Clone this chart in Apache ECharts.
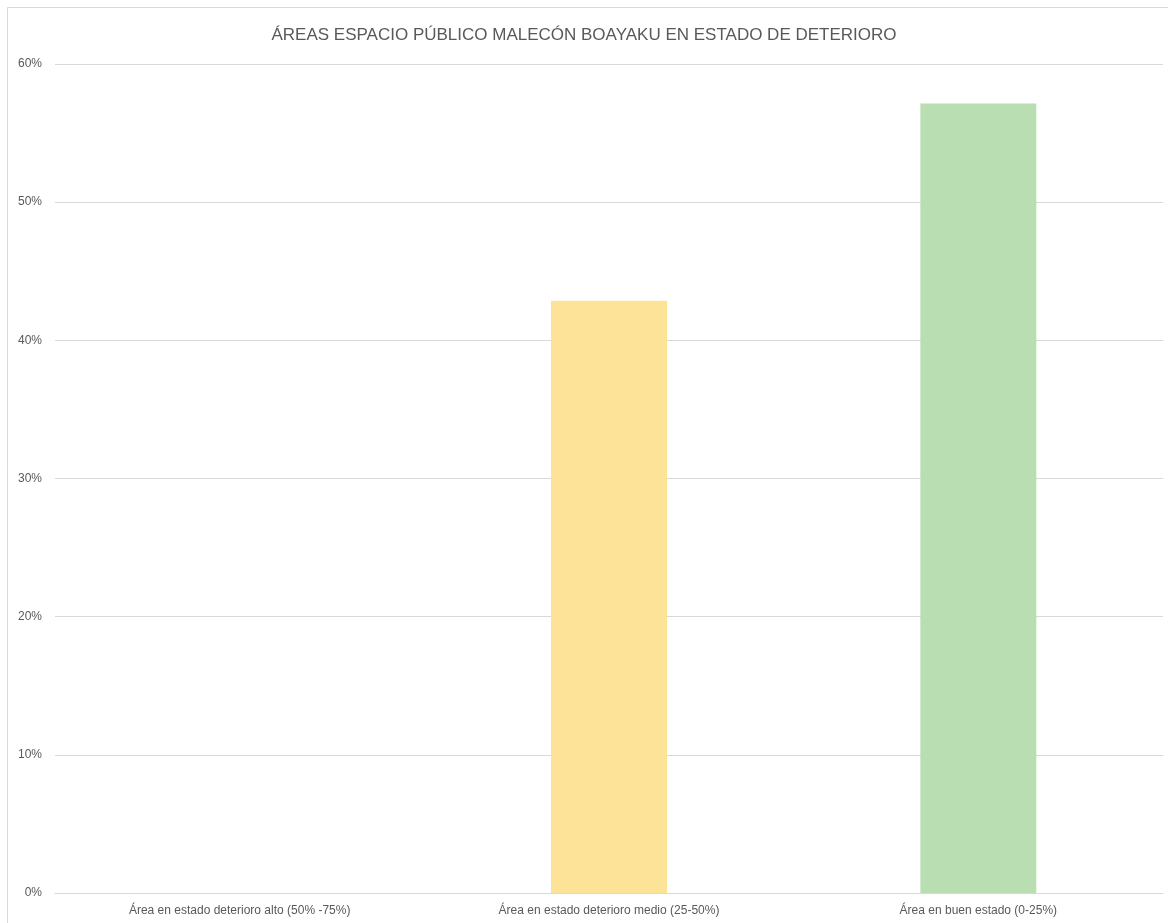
<!DOCTYPE html>
<html>
<head>
<meta charset="utf-8">
<script src="https://cdn.jsdelivr.net/npm/echarts@6/dist/echarts.min.js"></script>
<style>html,body{margin:0;padding:0;background:#fff}#c{width:1168px;height:923px}</style>
</head>
<body>
<div id="c"></div>
<script>
const titleText = 'ÁREAS ESPACIO PÚBLICO MALECÓN BOAYAKU EN ESTADO DE DETERIORO';
const categories = ['Área en estado deterioro alto (50% -75%)', 'Área en estado deterioro medio (25-50%)', 'Área en buen estado (0-25%)'];
const values = [0, 0.4286, 0.5714];
const barColors = ['#f4b183', '#fde397', '#b9deb2'];
const yTicks = [0, 0.1, 0.2, 0.3, 0.4, 0.5, 0.6];

const chart = echarts.init(document.getElementById('c'), null, {renderer: 'canvas'});
const font = '"Liberation Sans", "Open Sans", sans-serif';
chart.setOption({
  animation: false,
  backgroundColor: '#fff',
  graphic: [{
    type: 'rect', z: -1,
    shape: {x: 7.5, y: 7.5, width: 1200, height: 1000},
    style: {fill: 'none', stroke: '#d9d9d9', lineWidth: 1}
  }],
  title: {
    text: titleText, left: 'center', top: 22,
    textStyle: {fontFamily: font, fontSize: 17, fontWeight: 'normal', color: '#595959'}
  },
  grid: {left: 55, right: 5, top: 64, bottom: 30, containLabel: false},
  xAxis: {
    type: 'category', data: categories,
    axisLine: {lineStyle: {color: '#d9d9d9', width: 1}},
    axisTick: {show: false},
    axisLabel: {fontFamily: font, fontSize: 12, color: '#595959', margin: 12}
  },
  yAxis: {
    type: 'value', min: yTicks[0], max: yTicks[yTicks.length - 1], interval: 0.1,
    axisLine: {show: false}, axisTick: {show: false},
    splitLine: {lineStyle: {color: '#d9d9d9', width: 1}},
    axisLabel: {fontFamily: font, fontSize: 12, color: '#595959', margin: 13,
      formatter: v => Math.round(v * 100) + '%'}
  },
  series: [{
    type: 'bar',
    data: values.map((v, i) => ({value: v, itemStyle: {color: barColors[i]}})),
    barWidth: '31.4%'
  }]
});
</script>
</body>
</html>
